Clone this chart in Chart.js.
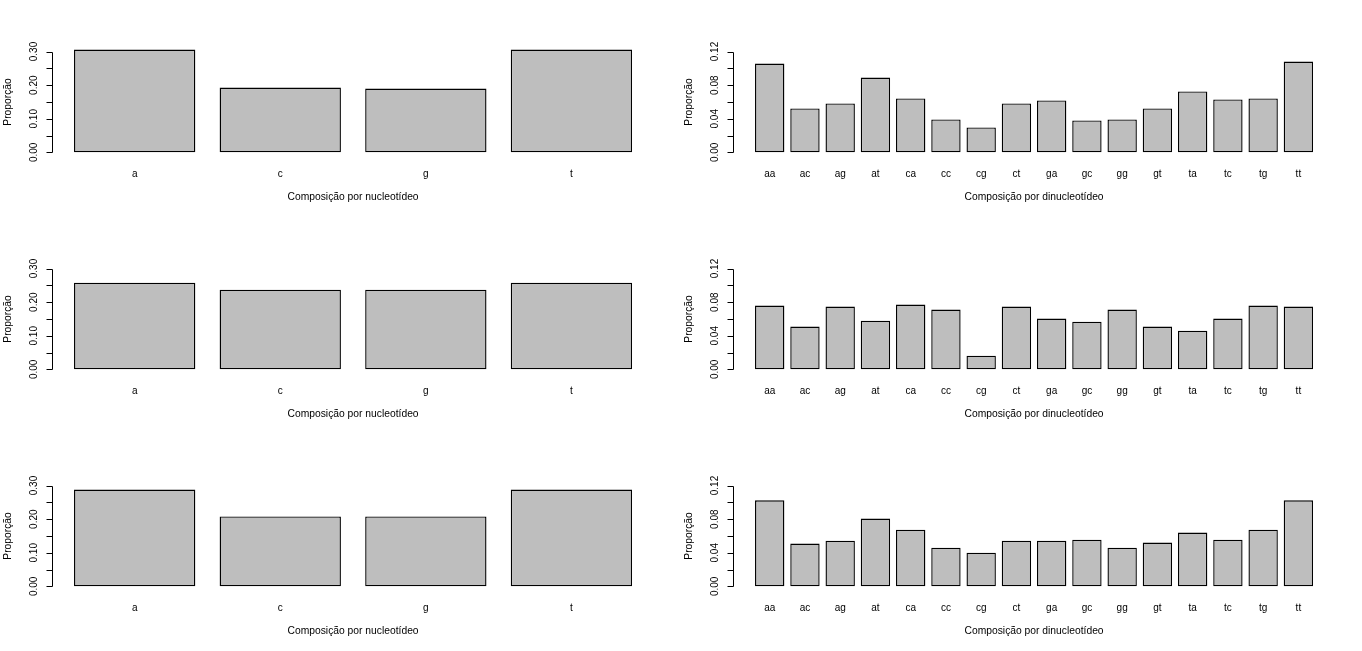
<!DOCTYPE html>
<html>
<head>
<meta charset="utf-8">
<title>Composição por nucleotídeo e dinucleotídeo</title>
<script src="https://cdn.jsdelivr.net/npm/chart.js"></script>
<style>
    body { margin: 0; background: #fff; }
    #grid {
        display: grid;
        grid-template-columns: 681px 681px;
        grid-template-rows: 217px 217px 217px;
        width: 1362px;
        height: 651px;
    }
    canvas { display: block; }
</style>
</head>
<body>
<div id="grid">
    <canvas id="nuc1" width="681" height="217"></canvas>
    <canvas id="dinuc1" width="681" height="217"></canvas>
    <canvas id="nuc2" width="681" height="217"></canvas>
    <canvas id="dinuc2" width="681" height="217"></canvas>
    <canvas id="nuc3" width="681" height="217"></canvas>
    <canvas id="dinuc3" width="681" height="217"></canvas>
</div>

<script>
    // categories
    const nucleotides = ['a', 'c', 'g', 't'];
    const dinucleotides = ['aa', 'ac', 'ag', 'at', 'ca', 'cc', 'cg', 'ct',
                           'ga', 'gc', 'gg', 'gt', 'ta', 'tc', 'tg', 'tt'];

    // proportions, one array per sequence
    const nucSeq1 = [0.306, 0.193, 0.190, 0.306];
    const nucSeq2 = [0.258, 0.237, 0.237, 0.258];
    const nucSeq3 = [0.288, 0.208, 0.208, 0.288];

    const dinucSeq1 = [0.1057, 0.0523, 0.0582, 0.0891, 0.0642, 0.0392, 0.0297, 0.0582,
                       0.0618, 0.0380, 0.0392, 0.0523, 0.0725, 0.0630, 0.0642, 0.1081];
    const dinucSeq2 = [0.0759, 0.0509, 0.0747, 0.0580, 0.0771, 0.0711, 0.0163, 0.0747,
                       0.0604, 0.0568, 0.0711, 0.0509, 0.0461, 0.0604, 0.0759, 0.0747];
    const dinucSeq3 = [0.1025, 0.0509, 0.0544, 0.0807, 0.0675, 0.0461, 0.0401, 0.0544,
                       0.0544, 0.0556, 0.0461, 0.0521, 0.0640, 0.0556, 0.0675, 0.1025];

    // y axis ticks (R only labels every other one)
    const nucTicks = [0, 0.05, 0.10, 0.15, 0.20, 0.25, 0.30];
    const nucTickLabels = ['0.00', '', '0.10', '', '0.20', '', '0.30'];
    const dinucTicks = [0, 0.02, 0.04, 0.06, 0.08, 0.10, 0.12];
    const dinucTickLabels = ['0.00', '', '0.04', '', '0.08', '', '0.12'];

    const nucYMax = 0.30;
    const dinucYMax = 0.12;

    const FONT = '"Liberation Sans", Arial, sans-serif';

    // draws the axes the way base R does
    const rAxes = {
        id: 'rAxes',
        afterDraw(chart, args, opts) {
            const ctx = chart.ctx;
            const xs = chart.scales.x;
            const ys = chart.scales.y;
            const area = chart.chartArea;
            const ax = Math.round(area.left) + 0.5;

            ctx.save();
            ctx.strokeStyle = '#000';
            ctx.fillStyle = '#000';
            ctx.lineWidth = 1;

            ctx.beginPath();
            const top = Math.round(ys.getPixelForValue(opts.ticks[opts.ticks.length - 1])) + 0.5;
            const bot = Math.round(ys.getPixelForValue(opts.ticks[0])) + 0.5;
            ctx.moveTo(ax, top);
            ctx.lineTo(ax, bot);
            opts.ticks.forEach(v => {
                const py = Math.round(ys.getPixelForValue(v)) + 0.5;
                ctx.moveTo(ax, py);
                ctx.lineTo(ax - 6, py);
            });
            ctx.stroke();

            // y tick labels, rotated
            ctx.font = '10px ' + FONT;
            ctx.textAlign = 'center';
            ctx.textBaseline = 'alphabetic';
            opts.ticks.forEach((v, i) => {
                if (!opts.tickLabels[i]) return;
                ctx.save();
                ctx.translate(area.left - 14.5, ys.getPixelForValue(v));
                ctx.rotate(-Math.PI / 2);
                ctx.fillText(opts.tickLabels[i], 0, 0);
                ctx.restore();
            });

            // category labels under bars
            opts.categories.forEach((c, i) => {
                ctx.fillText(c, xs.getPixelForValue(opts.centers[i]), area.bottom + 20.3);
            });

            // axis titles
            ctx.font = '10.3px ' + FONT;
            ctx.fillText(opts.xTitle, (area.left + area.right) / 2, area.bottom + 44);
            ctx.save();
            ctx.translate(area.left - 41, (area.top + area.bottom) / 2);
            ctx.rotate(-Math.PI / 2);
            ctx.fillText('Proporção', 0, 0);
            ctx.restore();

            ctx.restore();
        }
    };

    function makeBarplot(id, categories, values, ymax, ticks, tickLabels, xTitle) {
        // barplot layout: width 1, space 0.2, range padded by 4%
        const centers = categories.map((c, i) => 0.7 + 1.2 * i);
        const span = categories.length * 1.2 - 0.2;
        const xmin = 0.2 - 0.04 * span;
        const xmax = categories.length * 1.2 + 0.04 * span;

        new Chart(document.getElementById(id), {
            type: 'bar',
            data: {
                datasets: [{
                    data: values.map((v, i) => ({ x: centers[i], y: v })),
                    backgroundColor: '#BEBEBE',
                    borderColor: '#000',
                    borderWidth: 1.4,
                    borderSkipped: false,
                    inflateAmount: 0,
                    barPercentage: 1 / 1.2,
                    categoryPercentage: 1
                }]
            },
            options: {
                responsive: false,
                animation: false,
                devicePixelRatio: 1,
                events: [],
                layout: { padding: { left: 51.7, right: 26.6, top: 47.5, bottom: 60.6 } },
                plugins: {
                    legend: { display: false },
                    tooltip: { enabled: false },
                    rAxes: { categories, centers, ticks, tickLabels, xTitle }
                },
                scales: {
                    x: {
                        type: 'linear',
                        display: false,
                        offset: false,
                        min: xmin,
                        max: xmax,
                        afterBuildTicks: s => { s.ticks = centers.map(v => ({ value: v })); }
                    },
                    y: {
                        type: 'linear',
                        display: false,
                        min: -0.04 * ymax,
                        max: 1.04 * ymax
                    }
                }
            },
            plugins: [rAxes]
        });
    }

    const nucTitle = 'Composição por nucleotídeo';
    const dinucTitle = 'Composição por dinucleotídeo';

    makeBarplot('nuc1', nucleotides, nucSeq1, nucYMax, nucTicks, nucTickLabels, nucTitle);
    makeBarplot('dinuc1', dinucleotides, dinucSeq1, dinucYMax, dinucTicks, dinucTickLabels, dinucTitle);
    makeBarplot('nuc2', nucleotides, nucSeq2, nucYMax, nucTicks, nucTickLabels, nucTitle);
    makeBarplot('dinuc2', dinucleotides, dinucSeq2, dinucYMax, dinucTicks, dinucTickLabels, dinucTitle);
    makeBarplot('nuc3', nucleotides, nucSeq3, nucYMax, nucTicks, nucTickLabels, nucTitle);
    makeBarplot('dinuc3', dinucleotides, dinucSeq3, dinucYMax, dinucTicks, dinucTickLabels, dinucTitle);
</script>
</body>
</html>
